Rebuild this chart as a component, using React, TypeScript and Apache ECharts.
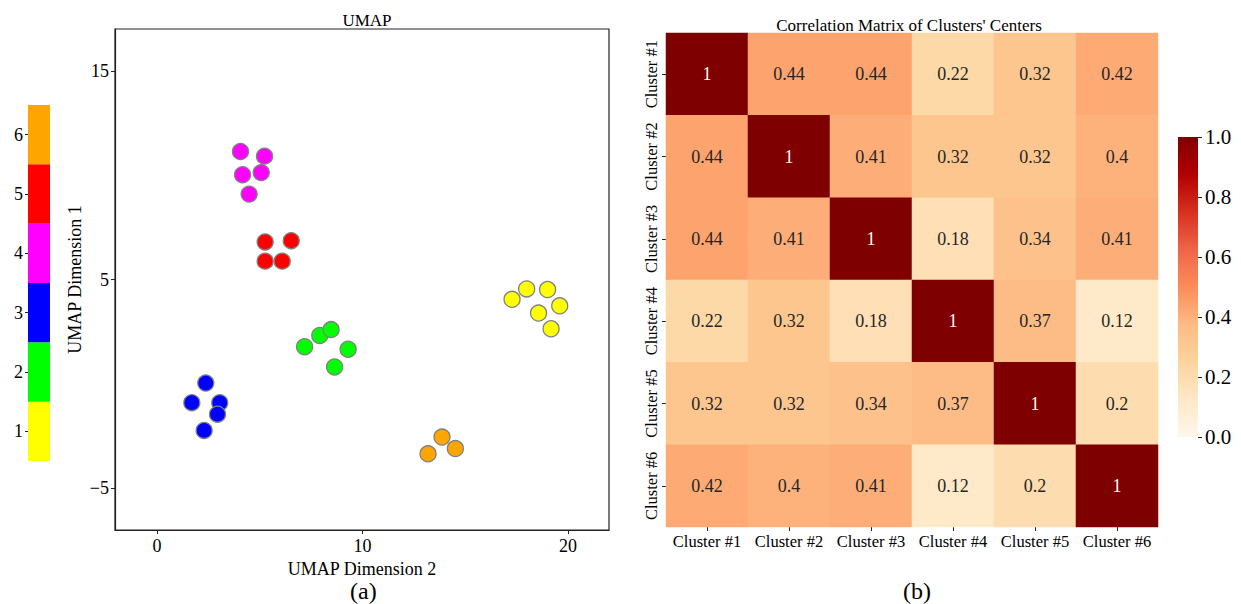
import React, { useEffect, useRef } from "react";
import * as echarts from "echarts";

// ---------- data ----------
const clusterIds = ["1", "2", "3", "4", "5", "6"];
const clusterColors = ["#ffff00", "#00ff00", "#0000ff", "#ff00ff", "#ff0000", "#ffa500"];

const cluster1Points = [[17.28, 4.05], [17.99, 4.55], [19.01, 4.52], [19.6, 3.74], [18.57, 3.39], [19.18, 2.64]];
const cluster2Points = [[7.18, 1.78], [7.92, 2.32], [8.47, 2.6], [9.3, 1.66], [8.64, 0.81]];
const cluster3Points = [[2.37, 0.04], [1.69, -0.9], [3.05, -0.9], [2.94, -1.45], [2.29, -2.23]];
const cluster4Points = [[4.06, 11.13], [5.23, 10.91], [4.16, 10.02], [5.07, 10.12], [4.48, 9.09]];
const cluster5Points = [[5.26, 6.8], [6.53, 6.86], [5.26, 5.88], [6.09, 5.88]];
const cluster6Points = [[13.87, -2.55], [14.52, -3.1], [13.19, -3.35]];
const clusterPoints = [cluster1Points, cluster2Points, cluster3Points, cluster4Points, cluster5Points, cluster6Points];

const umapXTicks = [0, 10, 20];
const umapYTicks = [-5, 5, 15];

const heatLabels = ["Cluster #1", "Cluster #2", "Cluster #3", "Cluster #4", "Cluster #5", "Cluster #6"];
const corrRow1 = [1, 0.44, 0.44, 0.22, 0.32, 0.42];
const corrRow2 = [0.44, 1, 0.41, 0.32, 0.32, 0.4];
const corrRow3 = [0.44, 0.41, 1, 0.18, 0.34, 0.41];
const corrRow4 = [0.22, 0.32, 0.18, 1, 0.37, 0.12];
const corrRow5 = [0.32, 0.32, 0.34, 0.37, 1, 0.2];
const corrRow6 = [0.42, 0.4, 0.41, 0.12, 0.2, 1];
const corrRows = [corrRow1, corrRow2, corrRow3, corrRow4, corrRow5, corrRow6];

const orRd = ["#fff7ec", "#fee8c8", "#fdd49e", "#fdbb84", "#fc8d59", "#ef6548", "#d7301f", "#b30000", "#7f0000"];

const FONT = "Liberation Serif";

export default function App() {
  const ref = useRef<HTMLDivElement>(null);

  useEffect(() => {
    if (!ref.current) return;
    const chart = echarts.init(ref.current, null, { renderer: "svg" });

    const heatData: any[] = [];
    corrRows.forEach((row, r) => {
      row.forEach((v, c) => {
        heatData.push({
          value: [c, r, v],
          label: { color: v > 0.7 ? "#ffffff" : "#262626" },
        });
      });
    });

    const scatterSeries = clusterPoints.map((pts, i) => ({
      type: "scatter",
      name: clusterIds[i],
      xAxisIndex: 0,
      yAxisIndex: 0,
      data: pts,
      symbolSize: 16,
      itemStyle: { color: clusterColors[i], borderColor: "#808080", borderWidth: 1.3, opacity: 1 },
      z: 3,
    }));

    const gradientStops = orRd.map((c, i) => ({ offset: i / (orRd.length - 1), color: c }));

    const option: any = {
      animation: false,
      backgroundColor: "#ffffff",
      textStyle: { fontFamily: FONT, color: "#000" },
      title: [
        { text: "UMAP", left: 362, top: 7, textAlign: "center", textStyle: { fontFamily: FONT, fontSize: 17, fontWeight: "normal", color: "#000" } },
        { text: "Correlation Matrix of Clusters' Centers", left: 904, top: 12, textAlign: "center", textStyle: { fontFamily: FONT, fontSize: 17, fontWeight: "normal", color: "#000" } },
      ],
      grid: [
        { left: 115, top: 29, width: 494, height: 501, show: true, borderColor: "#222", borderWidth: 1.2, backgroundColor: "transparent" },
        { left: 28, top: 105, width: 22, height: 356 },
        { left: 666, top: 33, width: 492, height: 494 },
        { left: 1178, top: 137, width: 20, height: 300 },
      ],
      xAxis: [
        {
          gridIndex: 0, type: "value", min: -2.05, max: 22.0,
          name: "UMAP Dimension 2", nameLocation: "middle", nameGap: 21,
          nameTextStyle: { fontFamily: FONT, fontSize: 18, lineHeight: 18, color: "#000" },
          axisLine: { show: true, onZero: false, lineStyle: { color: "#222", width: 1.2 } },
          axisTick: { show: true, length: 4, customValues: umapXTicks, lineStyle: { color: "#222" } },
          axisLabel: { customValues: umapXTicks, fontFamily: FONT, fontSize: 18, color: "#000", margin: 7 },
          splitLine: { show: false },
        },
        { gridIndex: 1, type: "value", min: 0, max: 1, show: false },
        {
          gridIndex: 2, type: "category", data: heatLabels, position: "bottom",
          axisLine: { show: false },
          axisTick: { show: true, alignWithLabel: true, interval: 0, length: 4, lineStyle: { color: "#222" } },
          axisLabel: { interval: 0, fontFamily: FONT, fontSize: 16.5, color: "#000", margin: 6 },
          splitLine: { show: false },
        },
        { gridIndex: 3, type: "category", data: ["cb"], show: false },
      ],
      yAxis: [
        {
          gridIndex: 0, type: "value", min: -7, max: 17,
          name: "UMAP Dimension 1", nameLocation: "middle", nameGap: 31,
          nameTextStyle: { fontFamily: FONT, fontSize: 18, color: "#000" },
          axisLine: { show: true, onZero: false, lineStyle: { color: "#222", width: 1.2 } },
          axisTick: { show: true, length: 4, customValues: umapYTicks, lineStyle: { color: "#222" } },
          axisLabel: {
            customValues: umapYTicks, fontFamily: FONT, fontSize: 18, color: "#000", margin: 6,
            formatter: (v: number) => String(v).replace("-", "\u2212"),
          },
          splitLine: { show: false },
        },
        {
          gridIndex: 1, type: "category", data: clusterIds, position: "left",
          axisLine: { show: false },
          axisTick: { show: true, alignWithLabel: true, interval: 0, length: 3, lineStyle: { color: "#222" } },
          axisLabel: { interval: 0, fontFamily: FONT, fontSize: 18, color: "#000", margin: 5 },
          splitLine: { show: false },
        },
        {
          gridIndex: 2, type: "category", data: heatLabels, inverse: true,
          axisLine: { show: false },
          axisTick: { show: true, alignWithLabel: true, interval: 0, length: 4, lineStyle: { color: "#222" } },
          axisLabel: { interval: 0, fontFamily: FONT, fontSize: 16.5, color: "#000", margin: 6, rotate: 90 },
          splitLine: { show: false },
        },
        {
          gridIndex: 3, type: "value", min: 0, max: 1, interval: 0.2, position: "right",
          axisLine: { show: false },
          axisTick: { show: true, length: 4, lineStyle: { color: "#222" } },
          axisLabel: { fontFamily: FONT, fontSize: 21, color: "#000", margin: 7, formatter: (v: number) => v.toFixed(1) },
          splitLine: { show: false },
        },
      ],
      visualMap: [
        { type: "continuous", min: 0, max: 1, show: false, seriesIndex: 7, inRange: { color: orRd } },
      ],
      series: [
        ...scatterSeries,
        {
          type: "bar",
          xAxisIndex: 1,
          yAxisIndex: 1,
          barWidth: "100%",
          barCategoryGap: 0,
          data: clusterIds.map((_, i) => ({ value: 1, itemStyle: { color: clusterColors[i] } })),
        },
        {
          type: "heatmap",
          xAxisIndex: 2,
          yAxisIndex: 2,
          data: heatData,
          label: {
            show: true, fontFamily: FONT, fontSize: 18,
            formatter: (p: any) => String(p.value[2]),
          },
          itemStyle: { borderWidth: 0 },
        },
        {
          type: "bar",
          xAxisIndex: 3,
          yAxisIndex: 3,
          barWidth: "100%",
          data: [1],
          itemStyle: { color: new echarts.graphic.LinearGradient(0, 1, 0, 0, gradientStops) },
        },
      ],
      graphic: [
        { type: "text", left: 350, top: 579, style: { text: "(a)", font: `24px '${FONT}'`, fill: "#000" } },
        { type: "text", left: 903, top: 579, style: { text: "(b)", font: `24px '${FONT}'`, fill: "#000" } },
      ],
    };

    chart.setOption(option);
    return () => chart.dispose();
  }, []);

  return (
    <div
      ref={ref}
      style={{ position: "absolute", left: 0, top: 0, width: 1241, height: 604 }}
    />
  );
}
